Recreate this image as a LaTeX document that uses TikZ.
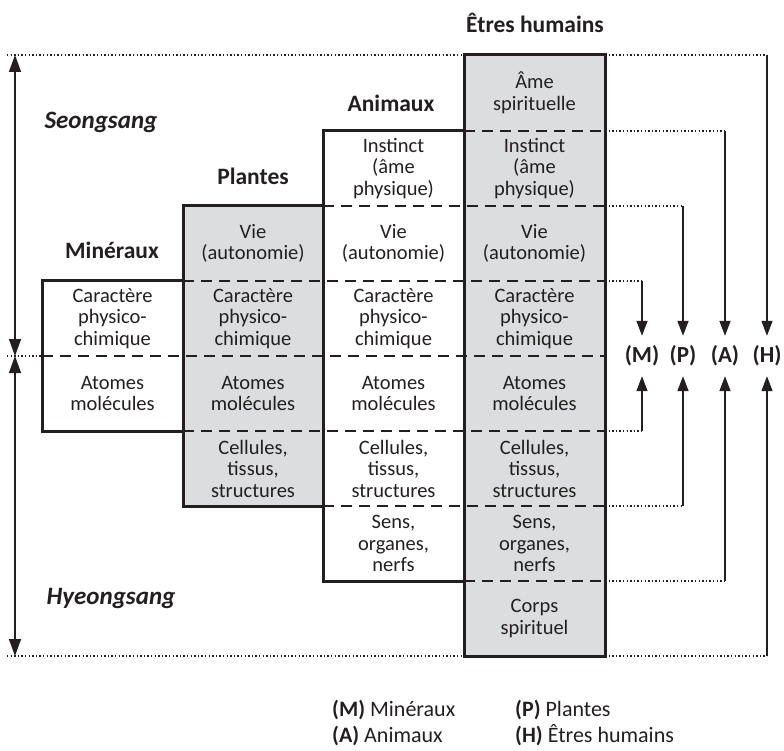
\documentclass[tikz,border=0pt]{standalone}
\usepackage{fontspec}
\setmainfont{Carlito}
\usetikzlibrary{arrows.meta}
\definecolor{ink}{RGB}{35,31,32}
\definecolor{boxgray}{RGB}{220,221,223}

\begin{document}
\begin{tikzpicture}[x=1pt,y=-1pt,
  cell/.style={align=center,inner sep=0pt,text=ink,font=\fontsize{20.5}{21.5}\selectfont},
  title/.style={inner sep=0pt,text=ink,font=\fontsize{23.5}{26}\selectfont\bfseries},
  zone/.style={inner sep=0pt,text=ink,font=\fontsize{25}{28}\selectfont\bfseries\itshape},
  tagl/.style={inner sep=0pt,minimum height=40pt,text=ink,font=\fontsize{23}{26}\selectfont\bfseries},
  legend/.style={anchor=base west,inner sep=0pt,text=ink,font=\fontsize{22}{24}\selectfont},
  box/.style={draw=ink,line width=3pt},
  rowline/.style={draw=ink,line width=2pt,dash pattern=on 11pt off 7pt},
  dotline/.style={draw=ink,line width=1.6pt,dash pattern=on 1.3pt off 2.3pt},
  stem/.style={draw=ink,line width=1.5pt},
  arr/.style={-{Triangle[length=15pt,width=11pt]}},
  twoway/.style={{Triangle[length=17pt,width=12pt]}-{Triangle[length=17pt,width=12pt]}}]
  \useasboundingbox (0,0) rectangle (784,751);
  % columns
  \fill[boxgray] (183,206) rectangle (323,506);
  \fill[boxgray] (464,55) rectangle (605,656);
  \draw[rowline] (464,131) -- (605,131);
  \draw[rowline] (323,206) -- (605,206);
  \draw[rowline] (183,281) -- (605,281);
  \draw[rowline] (42,356) -- (605,356);
  \draw[rowline] (183,431) -- (605,431);
  \draw[rowline] (323,506) -- (605,506);
  \draw[rowline] (464,581) -- (605,581);
  \draw[box] (42,281) rectangle (183,431);
  \draw[box] (183,206) rectangle (323,506);
  \draw[box] (323,131) rectangle (464,581);
  \draw[box] (464,55) rectangle (605,656);
  % guides
  \draw[dotline] (7,55) -- (464,55);
  \draw[dotline] (7,356) -- (42,356);
  \draw[dotline] (7,656) -- (464,656);
  % cells
  \path (112.5,318.5) node[cell] (m4) {Caractère\\physico-\\chimique}
        (112.5,393.5) node[cell] (m5) {Atomes\\molécules};
  \path (253,243.5) node[cell] (p3) {Vie\\(autonomie)}
        (253,318.5) node[cell] (p4) {Caractère\\physico-\\chimique}
        (253,393.5) node[cell] (p5) {Atomes\\molécules}
        (253,468.5) node[cell] (p6) {Cellules,\\tissus,\\structures};
  \path (393.5,168.5) node[cell] (a2) {Instinct\\(âme\\physique)}
        (393.5,243.5) node[cell] (a3) {Vie\\(autonomie)}
        (393.5,318.5) node[cell] (a4) {Caractère\\physico-\\chimique}
        (393.5,393.5) node[cell] (a5) {Atomes\\molécules}
        (393.5,468.5) node[cell] (a6) {Cellules,\\tissus,\\structures}
        (393.5,543.5) node[cell] (a7) {Sens,\\organes,\\nerfs};
  \path (534.5,93) node[cell] (h1) {Âme\\spirituelle}
        (534.5,168.5) node[cell] (h2) {Instinct\\(âme\\physique)}
        (534.5,243.5) node[cell] (h3) {Vie\\(autonomie)}
        (534.5,318.5) node[cell] (h4) {Caractère\\physico-\\chimique}
        (534.5,393.5) node[cell] (h5) {Atomes\\molécules}
        (534.5,468.5) node[cell] (h6) {Cellules,\\tissus,\\structures}
        (534.5,543.5) node[cell] (h7) {Sens,\\organes,\\nerfs}
        (534.5,618.5) node[cell] (h8) {Corps\\spirituel};
  % headings
  \node[title] (tMin) at (112,250) {Minéraux};
  \node[title] (tPla) at (253,176) {Plantes};
  \node[title] (tAni) at (391,103) {Animaux};
  \node[title] (tHum) at (535,23) {Êtres humains};
  \node[zone] (seong) at (101,122) {Seongsang};
  \node[zone] (hyeong) at (111,598) {Hyeongsang};
  % left arrows
  \coordinate (sTop) at (15,55);
  \coordinate (sMid) at (15,356);
  \coordinate (sBot) at (15,656);
  \draw[stem,twoway] (sTop) -- (sMid);
  \draw[stem,twoway] (sMid) -- (sBot);
  % brackets
  \node[tagl] (lM) at (642,356) {(M)};
  \node[tagl] (lP) at (683,356) {(P)};
  \node[tagl] (lA) at (725,356) {(A)};
  \node[tagl] (lH) at (767,356) {(H)};
  \coordinate (mTop) at (642,281);
  \coordinate (mBot) at (642,431);
  \coordinate (pTop) at (683,206);
  \coordinate (pBot) at (683,506);
  \coordinate (aTop) at (725,131);
  \coordinate (aBot) at (725,581);
  \coordinate (hTop) at (767,55);
  \coordinate (hBot) at (767,656);
  \draw[dotline] (605,281) -- (mTop);
  \draw[dotline] (605,431) -- (mBot);
  \draw[dotline] (605,206) -- (pTop);
  \draw[dotline] (605,506) -- (pBot);
  \draw[dotline] (605,131) -- (aTop);
  \draw[dotline] (605,581) -- (aBot);
  \draw[dotline] (605,55) -- (hTop);
  \draw[dotline] (605,656) -- (hBot);
  \draw[stem,arr] (mTop) -- (lM.north);
  \draw[stem,arr] (mBot) -- (lM.south);
  \draw[stem,arr] (pTop) -- (lP.north);
  \draw[stem,arr] (pBot) -- (lP.south);
  \draw[stem,arr] (aTop) -- (lA.north);
  \draw[stem,arr] (aBot) -- (lA.south);
  \draw[stem,arr] (hTop) -- (lH.north);
  \draw[stem,arr] (hBot) -- (lH.south);
  % legend
  \node[legend] (kM) at (332,716) {\textbf{(M)} Minéraux};
  \node[legend] (kP) at (515,716) {\textbf{(P)} Plantes};
  \node[legend] (kA) at (332,742) {\textbf{(A)} Animaux};
  \node[legend] (kH) at (515,742) {\textbf{(H)} Êtres humains};
\end{tikzpicture}
\end{document}
